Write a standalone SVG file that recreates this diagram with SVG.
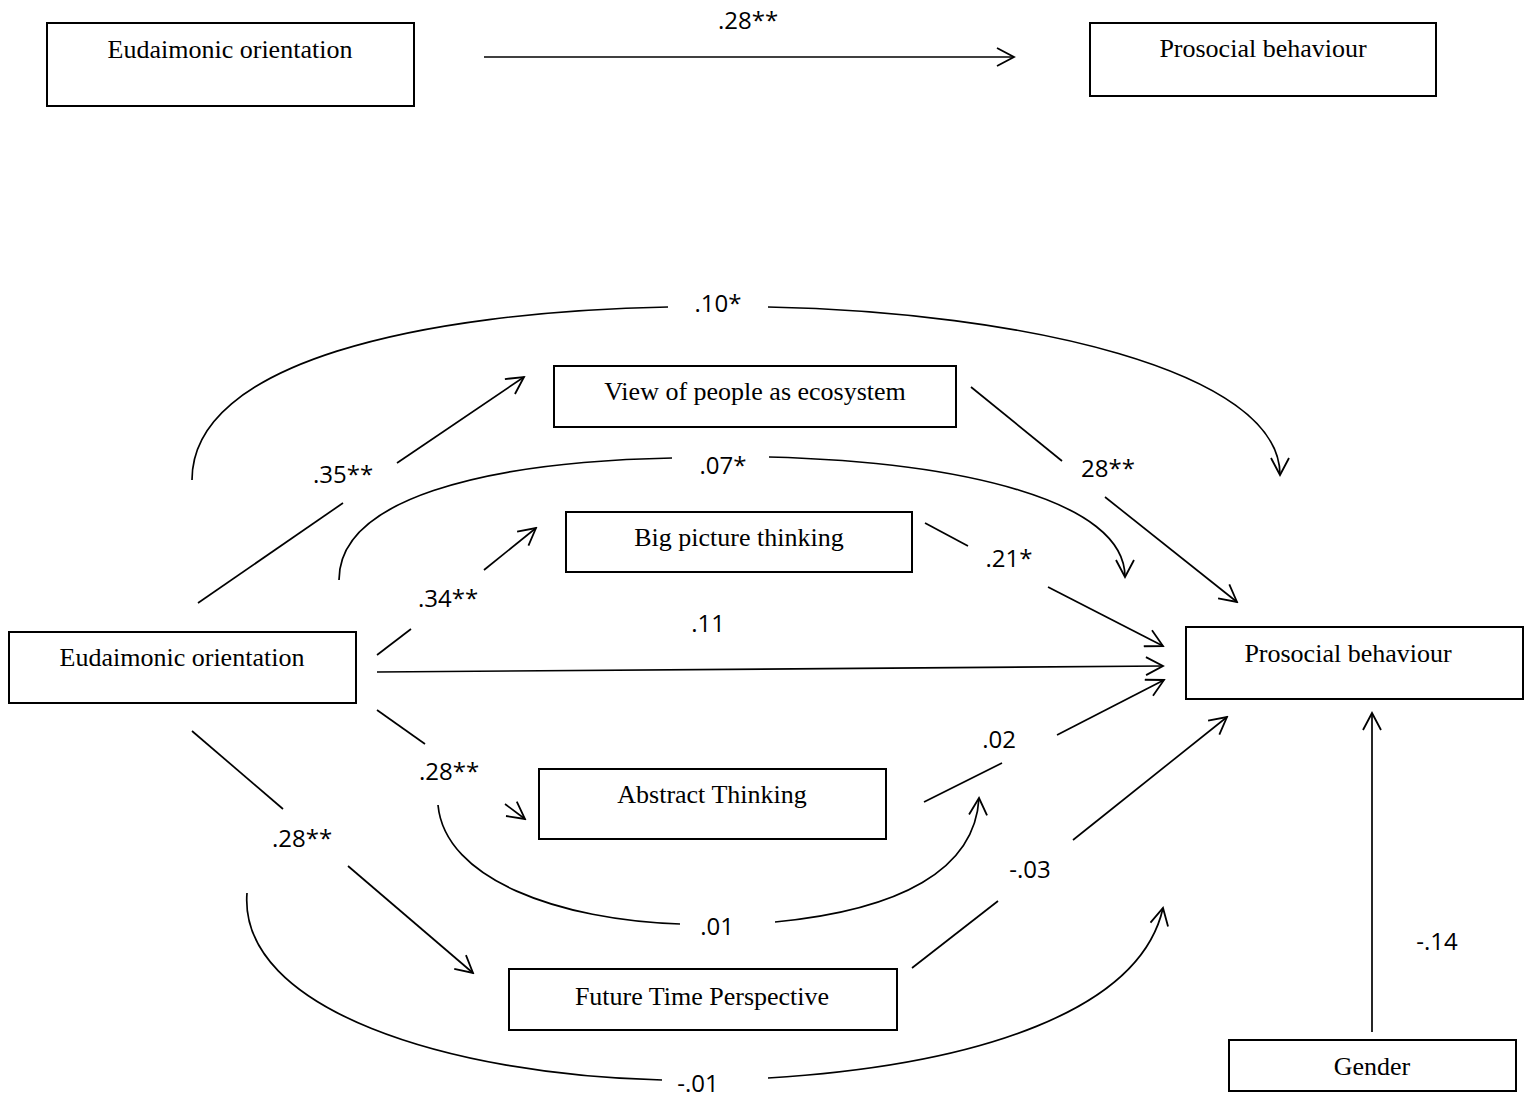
<svg xmlns="http://www.w3.org/2000/svg" width="1533" height="1099" viewBox="0 0 1533 1099">
<style>
.box{fill:#fff;stroke:#000;stroke-width:2}
.nt{font-family:"Liberation Serif","Times New Roman",serif;font-size:26px;text-anchor:middle;fill:#000}
.ln{fill:none;stroke:#000;stroke-width:1.7}
.lb{font-family:"Open Sans","Noto Sans","Liberation Sans",sans-serif;font-size:24px;text-anchor:middle;fill:#000}
</style>
<defs>
<marker id="ah" viewBox="0 0 20 20" refX="18" refY="10" markerWidth="20" markerHeight="20" markerUnits="userSpaceOnUse" orient="auto">
<path d="M1,1 L18,10 L1,19" fill="none" stroke="#000" stroke-width="1.8"/>
</marker>
</defs>
<rect width="1533" height="1099" fill="#fff"/>
<g id="top-eudaimonic"><rect class="box" x="47" y="23" width="367" height="83"/><text class="nt" x="230" y="58">Eudaimonic orientation</text></g>
<g id="top-prosocial"><rect class="box" x="1090" y="23" width="346" height="73"/><text class="nt" x="1263" y="57">Prosocial behaviour</text></g>
<g id="eudaimonic"><rect class="box" x="9" y="632" width="347" height="71"/><text class="nt" x="182" y="666">Eudaimonic orientation</text></g>
<g id="view"><rect class="box" x="554" y="366" width="402" height="61"/><text class="nt" x="755" y="400">View of people as ecosystem</text></g>
<g id="bigpicture"><rect class="box" x="566" y="512" width="346" height="60"/><text class="nt" x="739" y="546">Big picture thinking</text></g>
<g id="abstract"><rect class="box" x="539" y="769" width="347" height="70"/><text class="nt" x="712" y="803">Abstract Thinking</text></g>
<g id="future"><rect class="box" x="509" y="969" width="388" height="61"/><text class="nt" x="702" y="1005">Future Time Perspective</text></g>
<g id="prosocial"><rect class="box" x="1186" y="627" width="337" height="72"/><text class="nt" x="1348" y="662">Prosocial behaviour</text></g>
<g id="gender"><rect class="box" x="1229" y="1040" width="287" height="51"/><text class="nt" x="1372" y="1075">Gender</text></g>
<g id="connectors">
<path class="ln" d="M484,57 L1014,57" marker-end="url(#ah)"/>
<path class="ln" d="M192,480 C192,362 420,312 668,307"/>
<path class="ln" d="M768,307 C1020,312 1280,370 1280,475" marker-end="url(#ah)"/>
<path class="ln" d="M339,580 C339,500 480,462 672,458"/>
<path class="ln" d="M769,457 C960,462 1125,500 1125,577" marker-end="url(#ah)"/>
<path class="ln" d="M438,805 C445,880 560,920 680,924"/>
<path class="ln" d="M775,922 C900,910 975,870 979,798" marker-end="url(#ah)"/>
<path class="ln" d="M247,893 C238,1010 450,1075 662,1080"/>
<path class="ln" d="M768,1078 C980,1065 1140,1010 1163,908" marker-end="url(#ah)"/>
<path class="ln" d="M198,603 L343,503"/>
<path class="ln" d="M397,463 L524,377" marker-end="url(#ah)"/>
<path class="ln" d="M377,655 L411,629"/>
<path class="ln" d="M484,570 L536,528" marker-end="url(#ah)"/>
<path class="ln" d="M377,672 L1163,666" marker-end="url(#ah)"/>
<path class="ln" d="M377,710 L425,744"/>
<path class="ln" d="M505,804 L525,819" marker-end="url(#ah)"/>
<path class="ln" d="M192,731 L283,809"/>
<path class="ln" d="M348,866 L473,973" marker-end="url(#ah)"/>
<path class="ln" d="M971,387 L1062,461"/>
<path class="ln" d="M1105,497 L1237,602" marker-end="url(#ah)"/>
<path class="ln" d="M925,523 L968,546"/>
<path class="ln" d="M1048,587 L1163,646" marker-end="url(#ah)"/>
<path class="ln" d="M924,802 L1002,763"/>
<path class="ln" d="M1057,735 L1164,680" marker-end="url(#ah)"/>
<path class="ln" d="M912,968 L998,901"/>
<path class="ln" d="M1073,840 L1227,717" marker-end="url(#ah)"/>
<path class="ln" d="M1372,1032 L1372,713" marker-end="url(#ah)"/>
<text class="lb" x="748" y="29">.28**</text>
<text class="lb" x="718" y="312">.10*</text>
<text class="lb" x="343" y="483">.35**</text>
<text class="lb" x="723" y="474">.07*</text>
<text class="lb" x="1108" y="477">28**</text>
<text class="lb" x="448" y="607">.34**</text>
<text class="lb" x="1009" y="567">.21*</text>
<text class="lb" x="708" y="632">.11</text>
<text class="lb" x="999" y="748">.02</text>
<text class="lb" x="449" y="780">.28**</text>
<text class="lb" x="302" y="847">.28**</text>
<text class="lb" x="1030" y="878">-.03</text>
<text class="lb" x="717" y="935">.01</text>
<text class="lb" x="698" y="1092">-.01</text>
<text class="lb" x="1437" y="950">-.14</text>
</g>
</svg>
